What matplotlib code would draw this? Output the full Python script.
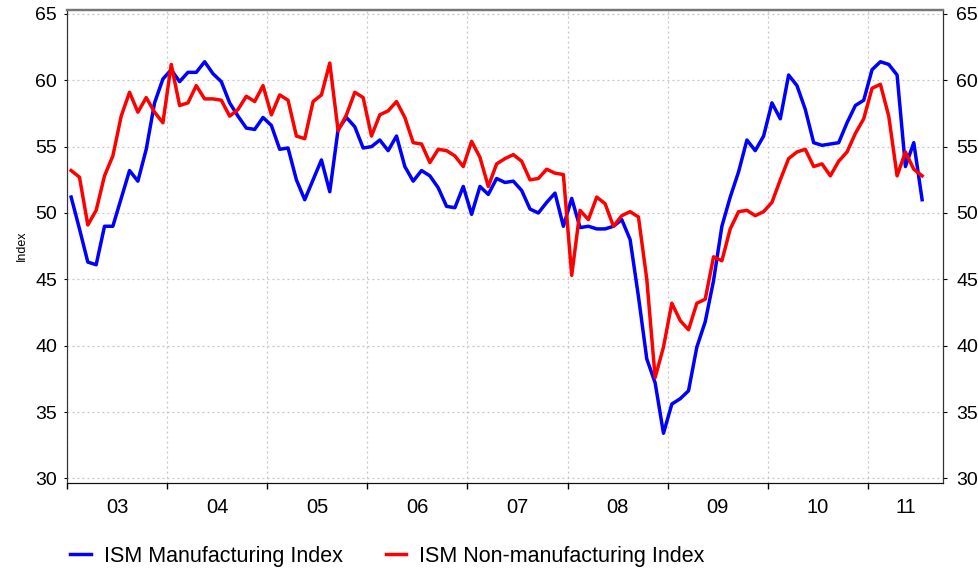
"""
ISM Manufacturing vs Non-manufacturing index, monthly 2003-2011
"""
import numpy as np
import matplotlib
matplotlib.use("Agg")
import matplotlib.pyplot as plt

plt.rcParams['font.family'] = ['Liberation Sans', 'DejaVu Sans']

# monthly values, Jan 2003 .. Jul 2011
manufacturing = [
    51.2, 48.8, 46.3, 46.1, 49.0, 49.0, 51.1, 53.2, 52.4, 54.8, 58.3, 60.1,  # 2003
    60.8, 59.9, 60.6, 60.6, 61.4, 60.5, 59.9, 58.3, 57.3, 56.4, 56.3, 57.2,  # 2004
    56.6, 54.8, 54.9, 52.5, 51.0, 52.5, 54.0, 51.6, 56.3, 57.2, 56.5, 54.9,  # 2005
    55.0, 55.5, 54.7, 55.8, 53.5, 52.4, 53.2, 52.8, 51.9, 50.5, 50.4, 52.0,  # 2006
    49.9, 52.0, 51.4, 52.6, 52.3, 52.4, 51.7, 50.3, 50.0, 50.8, 51.5, 49.0,  # 2007
    51.1, 48.9, 49.0, 48.8, 48.8, 49.0, 49.5, 48.0, 43.7, 39.0, 37.2, 33.4,  # 2008
    35.6, 36.0, 36.6, 39.9, 41.8, 44.9, 49.0, 51.2, 53.1, 55.5, 54.7, 55.8,  # 2009
    58.3, 57.1, 60.4, 59.6, 57.8, 55.3, 55.1, 55.2, 55.3, 56.8, 58.1, 58.5,  # 2010
    60.8, 61.4, 61.2, 60.4, 53.5, 55.3, 51.0,                                # 2011
]
non_manufacturing = [
    53.2, 52.7, 49.1, 50.2, 52.8, 54.3, 57.3, 59.1, 57.6, 58.7, 57.6, 56.8,  # 2003
    61.2, 58.1, 58.3, 59.6, 58.6, 58.6, 58.5, 57.3, 57.8, 58.8, 58.4, 59.6,  # 2004
    57.4, 58.9, 58.5, 55.8, 55.6, 58.4, 58.9, 61.3, 56.2, 57.4, 59.1, 58.7,  # 2005
    55.8, 57.4, 57.7, 58.4, 57.2, 55.3, 55.2, 53.8, 54.8, 54.7, 54.3, 53.5,  # 2006
    55.4, 54.2, 52.0, 53.7, 54.1, 54.4, 53.9, 52.5, 52.6, 53.3, 53.0, 52.9,  # 2007
    45.3, 50.2, 49.5, 51.2, 50.7, 49.0, 49.8, 50.1, 49.7, 45.0, 37.6, 39.9,  # 2008
    43.2, 41.9, 41.2, 43.2, 43.5, 46.7, 46.4, 48.8, 50.1, 50.2, 49.8, 50.1,  # 2009
    50.8, 52.5, 54.1, 54.6, 54.8, 53.5, 53.7, 52.8, 53.9, 54.6, 56.0, 57.1,  # 2010
    59.4, 59.7, 57.3, 52.8, 54.6, 53.3, 52.8,                                # 2011
]
years = list(range(2003, 2012))
year_labels = ['03', '04', '05', '06', '07', '08', '09', '10', '11']
y_ticks = [30, 35, 40, 45, 50, 55, 60, 65]

# month midpoints in decimal years
x = 2003 + (np.arange(len(manufacturing)) + 0.5) / 12
x_end = 2011.75

fig = plt.figure(figsize=(9.79, 5.71), dpi=100)
ax = fig.add_axes([0.0684, 0.1541, 0.8948, 0.8284])

ax.plot(x, manufacturing, color='#0000ff', lw=2.5, label='ISM Manufacturing Index')
ax.plot(x, non_manufacturing, color='#ff0000', lw=2.5, label='ISM Non-manufacturing Index')

ax.set_xlim(2003, x_end)
ax.set_ylim(29.65, 65.3)

# year boundaries as major ticks, labels centred on the visible part of each year
ax.set_xticks(years)
ax.set_xticklabels([])
label_pos = [min(y + 1, x_end) / 2 + y / 2 for y in years]
ax.set_xticks(label_pos, minor=True)
ax.set_xticklabels(year_labels, minor=True, fontsize=14.5)
ax.tick_params(axis='x', which='major', length=4, width=1, direction='out')
ax.tick_params(axis='x', which='minor', length=0, pad=11)

ax.set_yticks(y_ticks)
ax.set_yticklabels([str(v) for v in y_ticks], fontsize=14)
ax.tick_params(axis='y', length=2, pad=5)

ax.grid(True, which='major', color='#c4c4c4', linestyle=(0, (1.5, 2.5)), lw=0.9)

ax2 = ax.twinx()
ax2.set_ylim(ax.get_ylim())
ax2.set_yticks(y_ticks)
ax2.set_yticklabels([str(v) for v in y_ticks], fontsize=14)
ax2.tick_params(axis='y', length=3, pad=6.5)

for a in (ax, ax2):
    a.spines['top'].set_color('#777777')
    a.spines['top'].set_linewidth(1.6)
    a.spines['left'].set_color('#333333')
    a.spines['right'].set_color('#333333')
    a.spines['bottom'].set_color('#111111')

fig.text(22 / 979, 0.569, 'Index', rotation=90, fontsize=9, ha='center', va='center')

fig.legend(loc='center left', bbox_to_anchor=(0.063, 0.026), ncol=2, frameon=False,
           fontsize=15.5, handlelength=0.95, handletextpad=0.6, columnspacing=2.0,
           borderaxespad=0)

fig.savefig('out.png', dpi=100)
